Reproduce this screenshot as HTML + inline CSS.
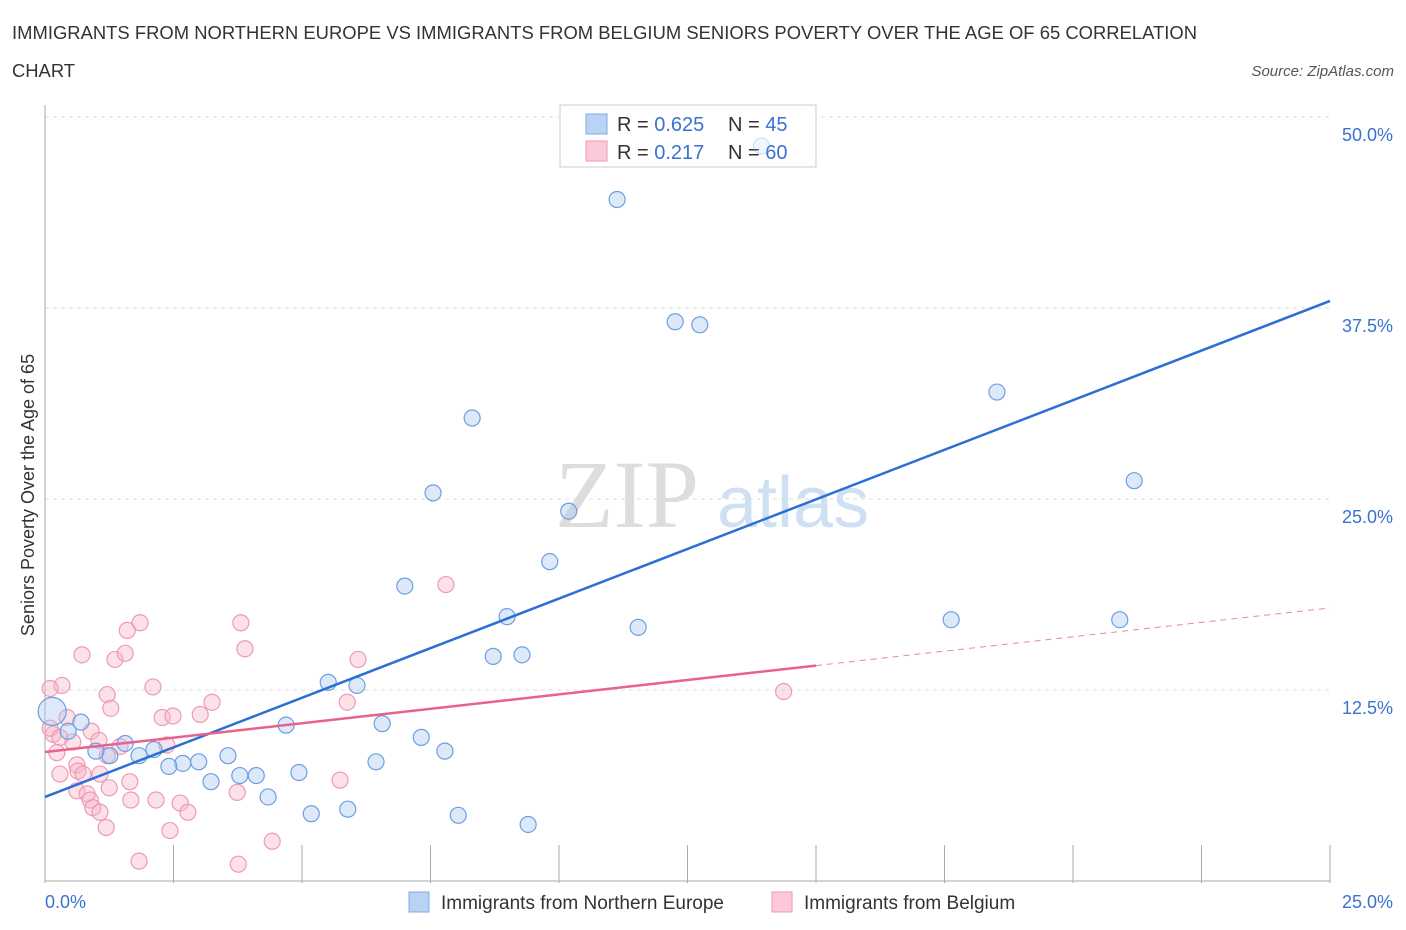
<!DOCTYPE html>
<html><head><meta charset="utf-8"><style>
body{margin:0;background:#fff;font-family:"Liberation Sans",sans-serif;}
svg{display:block}
</style></head><body>
<svg id="chart" width="1406" height="930" xmlns="http://www.w3.org/2000/svg">
<text x="12" y="39" font-size="18.4" fill="#333" textLength="1185">IMMIGRANTS FROM NORTHERN EUROPE VS IMMIGRANTS FROM BELGIUM SENIORS POVERTY OVER THE AGE OF 65 CORRELATION</text>
<text x="12" y="77" font-size="18.4" fill="#333">CHART</text>
<text x="1394" y="76" font-size="15" fill="#555" font-style="italic" text-anchor="end">Source: ZipAtlas.com</text>
<text x="555" y="527" font-size="96" fill="#ddd" font-family="Liberation Serif,serif">ZIP</text>
<text x="717" y="527" font-size="72" fill="#cfe0f5">atlas</text>
<text transform="translate(34,495) rotate(-90)" font-size="18" fill="#333" text-anchor="middle">Seniors Poverty Over the Age of 65</text>
<g id="grid"></g>
<g>
<rect x="560" y="105" width="256" height="62" fill="#fff" stroke="#ccc"/>
<rect x="586" y="114" width="21" height="20" fill="#b9d3f5" stroke="#7eaee8"/>
<rect x="586" y="141" width="21" height="20" fill="#fbc9d7" stroke="#ef9ab2"/>
<text x="617" y="131" font-size="20" fill="#333">R = <tspan fill="#3a72d0">0.625</tspan></text>
<text x="728" y="131" font-size="20" fill="#333">N = <tspan fill="#3a72d0">45</tspan></text>
<text x="617" y="159" font-size="20" fill="#333">R = <tspan fill="#3a72d0"> 0.217</tspan></text>
<text x="728" y="159" font-size="20" fill="#333">N = <tspan fill="#3a72d0">60</tspan></text>
</g>
<g id="marks"></g><g id="lines"></g>
<g>
<rect x="409" y="892" width="20" height="20" fill="#b9d3f5" stroke="#7eaee8"/>
<text x="441" y="909" font-size="19" fill="#333">Immigrants from Northern Europe</text>
<rect x="772" y="892" width="20" height="20" fill="#fbc9d7" stroke="#ef9ab2"/>
<text x="804" y="909" font-size="19" fill="#333">Immigrants from Belgium</text>
</g>
</svg>
<script>
const yTicks=[12.5,25,37.5,50];
const yTickLabels=["12.5%","25.0%","37.5%","50.0%"];
const xTickCount=10;
const blueX=[13.94,11.13,12.26,12.74,18.52,8.31,21.19,7.55,10.19,9.82,7.0,8.99,11.54,17.63,20.91,8.72,9.28,5.51,6.07,4.69,7.32,6.56,7.78,6.44,3.56,4.94,4.11,3.79,3.23,2.68,2.99,2.41,2.12,1.83,1.56,1.26,0.99,0.70,0.45,0.14,4.34,5.89,5.18,8.04,9.40];
const blueY=[48.1,44.6,36.6,36.4,32.0,30.3,26.2,25.4,24.2,20.9,19.3,17.3,16.6,17.1,17.1,14.7,14.8,13.0,12.8,10.2,9.4,10.3,8.5,7.8,8.2,7.1,6.9,6.9,6.5,7.7,7.8,7.5,8.6,8.2,9.0,8.2,8.5,10.4,9.8,11.1,5.5,4.7,4.4,4.3,3.7];
const pinkX=[1.85,1.60,3.81,0.72,1.36,1.56,3.89,6.09,2.10,1.21,1.28,0.33,0.10,3.25,3.02,2.28,2.49,5.88,0.43,0.16,0.10,0.54,0.29,2.37,0.23,1.46,1.21,0.62,0.29,0.64,0.74,1.07,1.65,1.25,0.62,0.82,0.88,1.67,2.16,2.63,2.78,0.93,1.07,1.19,2.43,3.74,4.42,5.74,1.83,3.76,7.80,14.37,0.90,1.05];
const pinkY=[16.9,16.4,16.9,14.8,14.5,14.9,15.2,14.5,12.7,12.2,11.3,12.8,12.6,11.7,10.9,10.7,10.8,11.7,10.7,9.6,10.0,9.1,9.4,8.9,8.4,8.8,8.2,7.6,7.0,7.2,7.0,7.0,6.5,6.1,5.9,5.7,5.3,5.3,5.3,5.1,4.5,4.8,4.5,3.5,3.3,5.8,2.6,6.6,1.3,1.1,19.4,12.4,9.8,9.2];
const blueFit=[5.5,37.96];
const pinkFit=[8.44,17.87];
const pinkSolidEnd=15.0;
const X=v=>45+v*51.4, Y=v=>881-v*15.28;
const NS="http://www.w3.org/2000/svg";
function mk(parent,tag,attrs){const e=document.createElementNS(NS,tag);for(const k in attrs)e.setAttribute(k,attrs[k]);document.getElementById(parent).appendChild(e);return e;}
let e;
yTicks.forEach((t,i)=>{
 e=mk("grid","line",{x1:45,x2:1330,y1:Y(t),y2:Y(t),stroke:"#ddd","stroke-dasharray":"4,4"});
 
 
 e=mk("grid","text",{x:1393,y:Y(t)+24,"font-size":18,fill:"#3a72d0","text-anchor":"end"});e.textContent=yTickLabels[i];
 
 
});
e=mk("grid","line",{x1:45,x2:45,y1:105,y2:883,stroke:"#aaa"});


e=mk("grid","line",{x1:45,x2:1330,y1:881,y2:881,stroke:"#aaa"});


for(let i=1;i<=xTickCount;i++){
 const xv=i*2.5;
 e=mk("grid","line",{x1:X(xv),x2:X(xv),y1:845,y2:883,stroke:"#aaa"});
 
 
}
e=mk("grid","text",{x:45,y:908,"font-size":18,fill:"#3a72d0"});e.textContent="0.0%";


e=mk("grid","text",{x:1393,y:908,"font-size":18,fill:"#3a72d0","text-anchor":"end"});e.textContent="25.0%";


pinkX.forEach((x,i)=>{
 e=mk("marks","circle",{cx:X(x),cy:Y(pinkY[i]),r:8,fill:"rgba(248,180,200,0.4)",stroke:"#ee9ab3","stroke-width":1.2});
 
 
});
blueX.forEach((x,i)=>{
 e=mk("marks","circle",{cx:X(x),cy:Y(blueY[i]),r:i==blueX.length-6?14:8,fill:"rgba(170,200,240,0.4)",stroke:"#6b9fe0","stroke-width":1.2,"stroke-opacity":i==0?0.3:1,"fill-opacity":i==0?0.4:1});
 
 
});
const pf=x=>pinkFit[0]+(pinkFit[1]-pinkFit[0])*x/25;
e=mk("lines","line",{x1:X(0),y1:Y(blueFit[0]),x2:X(25),y2:Y(blueFit[1]),stroke:"#2a6fd6","stroke-width":2.5});


e=mk("lines","line",{x1:X(0),y1:Y(pf(0)),x2:X(pinkSolidEnd),y2:Y(pf(pinkSolidEnd)),stroke:"#e8628d","stroke-width":2.5});


e=mk("lines","line",{x1:X(pinkSolidEnd),y1:Y(pf(pinkSolidEnd)),x2:X(25),y2:Y(pf(25)),stroke:"#e8889f","stroke-width":1,"stroke-dasharray":"6,5"});


</script>
</body></html>
